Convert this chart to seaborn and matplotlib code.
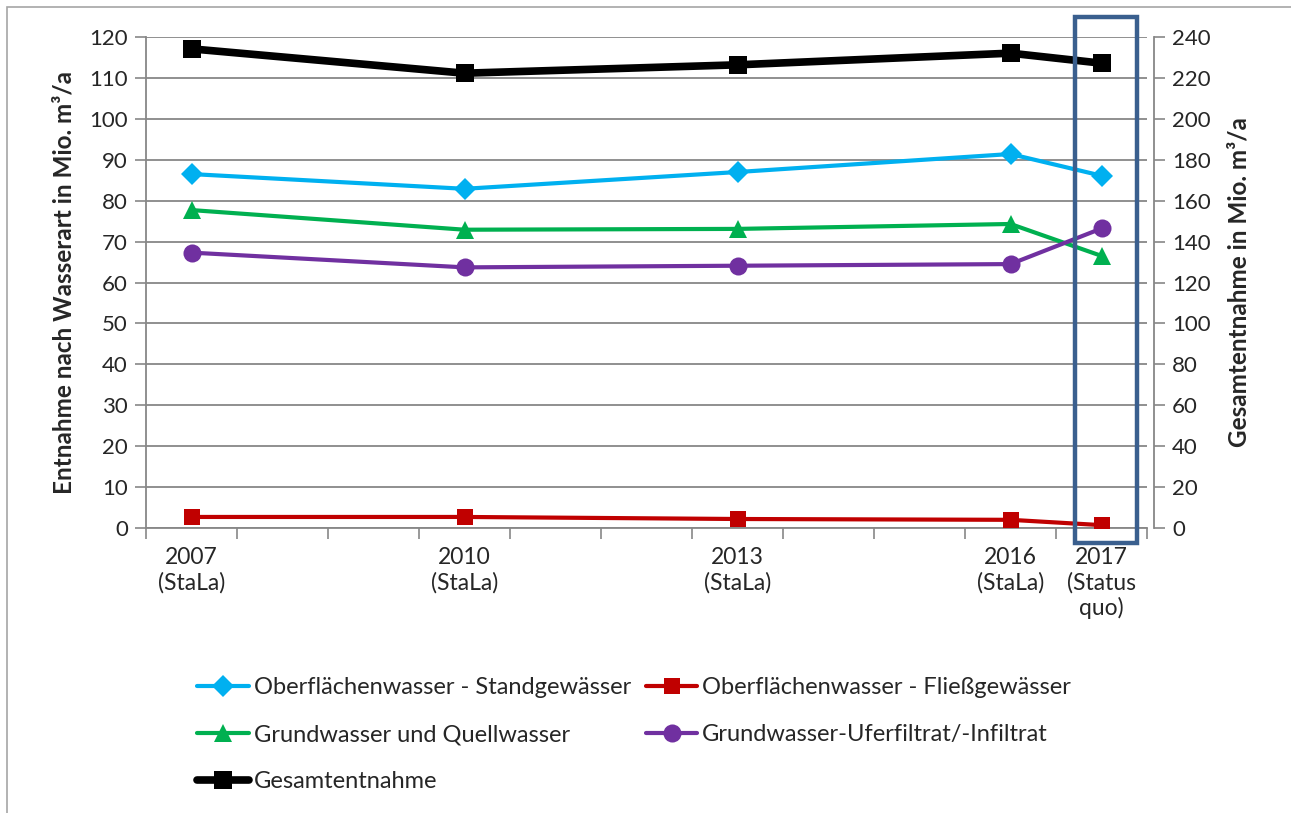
import matplotlib
matplotlib.use("Agg")
import matplotlib.pyplot as plt
from matplotlib.lines import Line2D
from matplotlib.patches import Rectangle
import seaborn as sns
import pandas as pd

# Jahre und Beschriftungen der x-Achse
years = [2007, 2010, 2013, 2016, 2017]
year_labels = ["2007\n(StaLa)", "2010\n(StaLa)", "2013\n(StaLa)", "2016\n(StaLa)", "2017\n(Status\nquo)"]

# Entnahme nach Wasserart (Mio. m³/a), linke Achse
standgewaesser = [86.5, 82.9, 87.0, 91.4, 86.1]
fliessgewaesser = [2.7, 2.7, 2.2, 2.0, 0.7]
grundwasser = [77.7, 72.9, 73.1, 74.3, 66.5]
uferfiltrat = [67.3, 63.7, 64.1, 64.5, 73.2]
# Gesamtentnahme (Mio. m³/a), rechte Achse
gesamt = [234.2, 222.3, 226.4, 232.1, 227.2]

names = {
    "stand": "Oberflächenwasser - Standgewässer",
    "fliess": "Oberflächenwasser - Fließgewässer",
    "grund": "Grundwasser und Quellwasser",
    "ufer": "Grundwasser-Uferfiltrat/-Infiltrat",
    "gesamt": "Gesamtentnahme",
}

sns.set_theme(style="white")
plt.rcParams["font.family"] = ["Lato", "DejaVu Sans"]

fig = plt.figure(figsize=(12.91, 8.13), dpi=100)
W, H = 1291, 813
left, right, top, bottom = 146, 1147, 37, 528
ax = fig.add_axes([left / W, 1 - bottom / H, (right - left) / W, (bottom - top) / H])
ax2 = ax.twinx()

grid_c = "#878787"
styles = [
    ("stand", standgewaesser, "#00B0F0", "D", 11),
    ("fliess", fliessgewaesser, "#C00000", "s", 12),
    ("grund", grundwasser, "#00B050", "^", 13),
    ("ufer", uferfiltrat, "#7030A0", "o", 13),
]
handles = {}
for key, vals, col, mk, ms in styles:
    df = pd.DataFrame({"Jahr": years, "Wert": vals})
    sns.lineplot(data=df, x="Jahr", y="Wert", ax=ax, color=col, lw=3,
                 marker=mk, markersize=ms, markeredgewidth=0, zorder=3)
    handles[key] = Line2D([], [], color=col, lw=3, marker=mk, markersize=ms,
                          markeredgewidth=0)

dfg = pd.DataFrame({"Jahr": years, "Wert": gesamt})
sns.lineplot(data=dfg, x="Jahr", y="Wert", ax=ax2, color="black", lw=5.5,
             marker="s", markersize=13, markeredgewidth=0, zorder=4)
handles["gesamt"] = Line2D([], [], color="black", lw=5.5, marker="s",
                           markersize=13, markeredgewidth=0)

# Achsenbereiche
ax.set_xlim(2006.5, 2017.5)
ax.set_ylim(0, 120)
ax2.set_ylim(0, 240)
ax.set_yticks(range(0, 121, 10))
ax2.set_yticks(range(0, 241, 20))
ax.set_xticks(years)
ax.set_xticklabels(year_labels, fontsize=16.5, linespacing=1.2)
ax.set_xticks([2006.5 + i for i in range(12)], minor=True)
ax.tick_params(axis="x", which="major", length=0, pad=14)
ax.tick_params(axis="x", which="minor", length=8, width=1.2, color=grid_c, direction="out", bottom=True)
ax.tick_params(axis="y", length=8, width=1.2, color=grid_c, direction="out", labelsize=16, pad=5, left=True)
ax2.tick_params(axis="y", length=8, width=1.2, color=grid_c, direction="out", labelsize=16, pad=5, right=True)
ax.grid(axis="y", color=grid_c, lw=1.3)
ax.set_axisbelow(True)
ax2.grid(False)

for a in (ax, ax2):
    for s in a.spines.values():
        s.set_visible(False)
ax.spines["left"].set_visible(True)
ax.spines["bottom"].set_visible(True)
ax2.spines["right"].set_visible(True)
for s in (ax.spines["left"], ax.spines["bottom"], ax2.spines["right"]):
    s.set_color(grid_c)
    s.set_linewidth(1.3)
ax2.spines["right"].set_position(("outward", 5))

ax.set_xlabel("")
ax.set_ylabel("Entnahme nach Wasserart in Mio. m³/a", fontsize=17.5, fontweight="bold", labelpad=10)
ax2.set_ylabel("Gesamtentnahme in Mio. m³/a", fontsize=17.5, fontweight="bold", labelpad=12)

# Hervorhebung des Status quo
fig.patches.append(Rectangle((1075 / W, 1 - 543 / H), 62 / W, 526 / H,
                             transform=fig.transFigure, fill=False,
                             edgecolor="#3A5F8E", lw=3.2, zorder=10))
# Rahmen des Diagrammbereichs
fig.patches.append(Rectangle((7 / W, -0.05), 1.1, 1 - 7 / H + 0.05,
                             transform=fig.transFigure, fill=False,
                             edgecolor="#A6A6A6", lw=1.2, zorder=0))

order = ["stand", "grund", "gesamt", "fliess", "ufer"]
fig.legend([handles[k] for k in order], [names[k] for k in order],
           ncol=2, loc="upper left", bbox_to_anchor=(188 / W, 1 - 668 / H),
           frameon=False, fontsize=17, handlelength=2.2, handletextpad=0.2,
           columnspacing=0.6, labelspacing=1.1, borderaxespad=0)

fig.savefig("out.png", dpi=100)
